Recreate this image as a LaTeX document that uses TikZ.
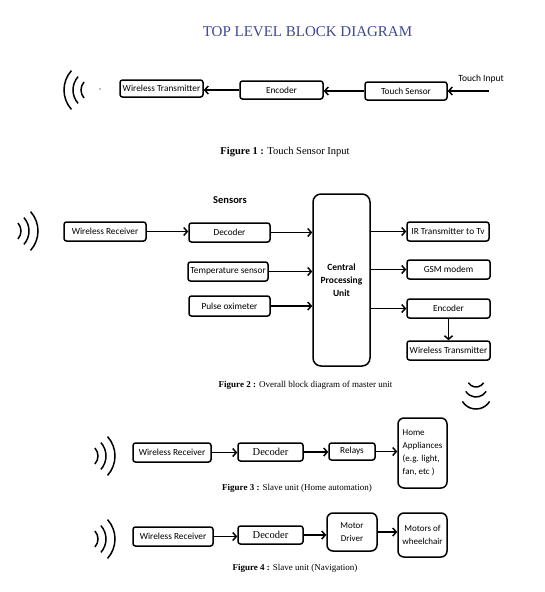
\documentclass[tikz,border=0pt]{standalone}
\usepackage{fontspec}
\setmainfont{Liberation Serif}
\setsansfont{Carlito}
\usetikzlibrary{arrows.meta}
\definecolor{titleblue}{RGB}{62,72,150}

\begin{document}
\begin{tikzpicture}[x=1pt,y=-1pt,line width=1.5pt,
    >={Straight Barb[length=3.5pt,width=8pt]},
    blk/.style={draw,rounded corners=2.5pt,inner sep=1pt,align=center,
      font=\sffamily\fontsize{9.3}{10}\selectfont},
    rblk/.style={blk,rounded corners=6pt,font=\sffamily\fontsize{9}{13}\selectfont},
    sz/.style 2 args={minimum width=#1pt,minimum height=#2pt},
    figcap/.style={font=\fontsize{9}{11}\selectfont},
    wave/.style={line width=1.5pt}]
  \useasboundingbox (0,0) rectangle (544,592);
  \node[font=\fontsize{15}{18}\selectfont,text=titleblue] (title) at (307.5,32) {TOP LEVEL BLOCK DIAGRAM};
  \foreach \r in {12,20,29}
    \draw[wave] ([shift={(138:\r)}]93,90) arc(138:222:\r);
  \fill[gray] (100,89) circle(0.9);
  \node[blk,sz={83}{17}] (wt1) at (161.5,88.5) {Wireless Transmitter};
  \node[blk,sz={83}{18}] (enc1) at (281.5,90) {Encoder};
  \node[blk,sz={82}{18}] (ts) at (406,91) {Touch Sensor};
  \node[font=\sffamily\fontsize{9.5}{10}\selectfont] (tin) at (481,79) {Touch Input};
  \coordinate (ti) at (489,91);
  \draw[->] (ti) -- (ts.east);
  \draw[->] (ts.west) -- (ts.west -| enc1.east);
  \draw[->] (enc1.west) -- (enc1.west -| wt1.east);
  \node[figcap,font=\fontsize{10.5}{12}\selectfont] (cap1) at (285,152) {\textbf{Figure 1 :} Touch Sensor Input};
  \foreach \cx/\cy in {9/231,86/456,86/539}
    \foreach \r in {12,20,29}
      \draw[wave] ([shift={(-42:\r)}]\cx,\cy) arc(-42:42:\r);
  \node[font=\sffamily\bfseries\fontsize{10.5}{12}\selectfont] (sens) at (230,200) {Sensors};
  \node[blk,sz={82}{19}] (wr2) at (105,231.5) {Wireless Receiver};
  \node[blk,sz={81}{19}] (dec2) at (229.5,232.5) {Decoder};
  \node[blk,sz={80}{19}] (temp) at (228,271.5) {Temperature sensor};
  \node[blk,sz={81}{20}] (pulse) at (229.5,306) {Pulse oximeter};
  \node[blk,sz={57}{172},rounded corners=8pt,font=\sffamily\bfseries\fontsize{9.5}{13}\selectfont] (cpu) at (341.5,280) {Central\\Processing\\Unit};
  \node[blk,sz={82}{19}] (ir) at (448,231.5) {IR Transmitter to Tv};
  \node[blk,sz={83}{19}] (gsm) at (448.5,269.5) {GSM modem};
  \node[blk,sz={83}{19}] (enc2) at (448.5,308.5) {Encoder};
  \node[blk,sz={83}{19}] (wt2) at (448.5,350.5) {Wireless Transmitter};
  \draw[->] (wr2.east) -- (wr2.east -| dec2.west);
  \foreach \n in {dec2,temp,pulse}
    \draw[->] (\n.east) -- (\n.east -| cpu.west);
  \foreach \n in {ir,gsm,enc2}
    \draw[->] (cpu.east |- \n.west) -- (\n.west);
  \draw[->] (enc2) -- (wt2);
  \node[figcap] (cap2) at (305.5,385) {\textbf{Figure 2 :} Overall block diagram of master unit};
  \foreach \cy/\r in {378/9,385/12,393/16}
    \draw[wave] ([shift={(32:\r)}]476,\cy) arc(32:148:\r);
  \node[blk,sz={78}{19}] (wr3) at (172,452.5) {Wireless Receiver};
  \node[blk,sz={65}{18},font=\fontsize{10.5}{12}\selectfont] (dec3) at (270.5,452) {Decoder};
  \node[blk,sz={46}{17}] (rel) at (352,451.5) {Relays};
  \node[rblk,sz={49}{70},align=left] (home) at (422.5,453) {Home\\Appliances\\(e.g. light,\\fan, etc )};
  \draw[->] (wr3.east) -- (wr3.east -| dec3.west);
  \draw[->] (dec3.east) -- (dec3.east -| rel.west);
  \draw[->] (rel.east) -- (rel.east -| home.west);
  \node[figcap] (cap3) at (297,488) {\textbf{Figure 3 :} Slave unit (Home automation)};
  \node[blk,sz={80}{19}] (wr4) at (173,536.5) {Wireless Receiver};
  \node[blk,sz={65}{18},font=\fontsize{10.5}{12}\selectfont] (dec4) at (270.5,535) {Decoder};
  \node[rblk,sz={50}{38}] (md) at (352,532) {Motor\\Driver};
  \node[rblk,sz={49}{44}] (mw) at (422.5,535) {Motors of\\wheelchair};
  \draw[->] (wr4.east) -- (wr4.east -| dec4.west);
  \draw[->] (dec4.east) -- (dec4.east -| md.west);
  \draw[->] (md.east) -- (md.east -| mw.west);
  \node[figcap] (cap4) at (295,568) {\textbf{Figure 4 :} Slave unit (Navigation)};
\end{tikzpicture}
\end{document}
